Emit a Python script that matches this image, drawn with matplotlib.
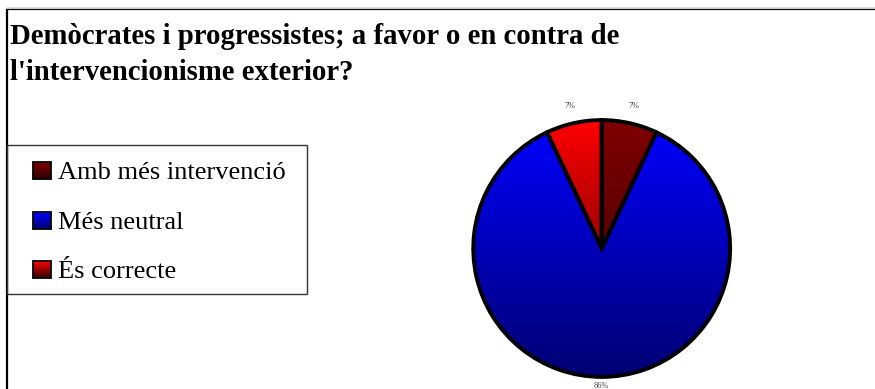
import numpy as np
import matplotlib
matplotlib.use("Agg")
import matplotlib.pyplot as plt
from matplotlib.patches import Rectangle

# ---- data ----
title_lines = ["Demòcrates i progressistes; a favor o en contra de",
               "l'intervencionisme exterior?"]
categories = ["Amb més intervenció", "Més neutral", "És correcte"]
values = [7, 86, 7]
pct_labels = ["7%", "86%", "7%"]
# gradient colours (top, bottom) per category
grad_top = [(0.50, 0.0, 0.0), (0.0, 0.0, 1.0), (1.0, 0.0, 0.0)]
grad_bot = [(0.18, 0.0, 0.0), (0.0, 0.0, 0.45), (0.20, 0.0, 0.0)]

W, H = 875, 389
fig = plt.figure(figsize=(W / 100, H / 100), dpi=100)
fig.patch.set_facecolor("white")

SERIF = ["Liberation Serif", "DejaVu Serif"]

def grad_img(top, bot, n=256):
    t = np.linspace(0, 1, n)[:, None]
    top = np.array(top); bot = np.array(bot)
    rgb = top[None, None, :] * (1 - t[..., None]) + bot[None, None, :] * t[..., None]
    return rgb

# ---- overlay axes in pixel coords ----
ov = fig.add_axes([0, 0, 1, 1])
ov.set_xlim(0, W)
ov.set_ylim(H, 0)
ov.axis("off")

# frame
ov.add_patch(Rectangle((6.5, 9), W + 20, H + 20, fill=False, edgecolor="black", lw=1.6))
ov.plot([6, W], [7.5, 7.5], color="#c8c8c8", lw=0.8)

# title
ov.text(10, 44, title_lines[0], fontsize=20.7, fontweight="bold", family=SERIF,
        va="baseline", ha="left")
ov.text(10, 80, title_lines[1], fontsize=20.7, fontweight="bold", family=SERIF,
        va="baseline", ha="left")

# legend box
ov.add_patch(Rectangle((7, 145), 300, 149, fill=False, edgecolor="#333333", lw=1.0))
baselines = [179, 229, 278]
for i, lab in enumerate(categories):
    yb = baselines[i]
    ov.imshow(grad_img(grad_top[i], grad_bot[i]), extent=(33, 51, yb, yb - 17),
              aspect="auto", zorder=3)
    ov.add_patch(Rectangle((33, yb - 17), 18, 17, fill=False, edgecolor="black",
                           lw=1.3, zorder=4))
    ov.text(58, yb, lab, fontsize=19, family=SERIF, va="baseline", ha="left")
ov.set_xlim(0, W)
ov.set_ylim(H, 0)

# ---- pie ----
cx, cy, r = 601.7, 248.5, 131
ax = fig.add_axes([(cx - r) / W, (H - cy - r) / H, 2 * r / W, 2 * r / H])
wedges, _ = ax.pie(values, startangle=90, counterclock=False, radius=1,
                   wedgeprops=dict(edgecolor="black", linewidth=2.8))
for i, w in enumerate(wedges):
    w.set_facecolor("none")
    w.set_zorder(3)
    im = ax.imshow(grad_img(grad_top[i], grad_bot[i]), extent=(-1, 1, -1, 1),
                   aspect="auto", zorder=1)
    im.set_clip_path(w)
ax.set_xlim(-1.02, 1.02)
ax.set_ylim(-1.02, 1.02)
ax.set_aspect("equal")
ax.axis("off")

# percentage labels
ang = 90.0
tot = float(sum(values))
for i, v in enumerate(values):
    span = 360.0 * v / tot
    mid = np.deg2rad(ang - span / 2)
    ang -= span
    rr = 1.07 if v / tot > 0.5 else 1.14
    x, y = rr * np.cos(mid), rr * np.sin(mid)
    ax.text(x, y, pct_labels[i], fontsize=6, color="#444444", family=SERIF,
            ha="center", va="center", clip_on=False)

fig.savefig("out.png", dpi=100, facecolor="white")
